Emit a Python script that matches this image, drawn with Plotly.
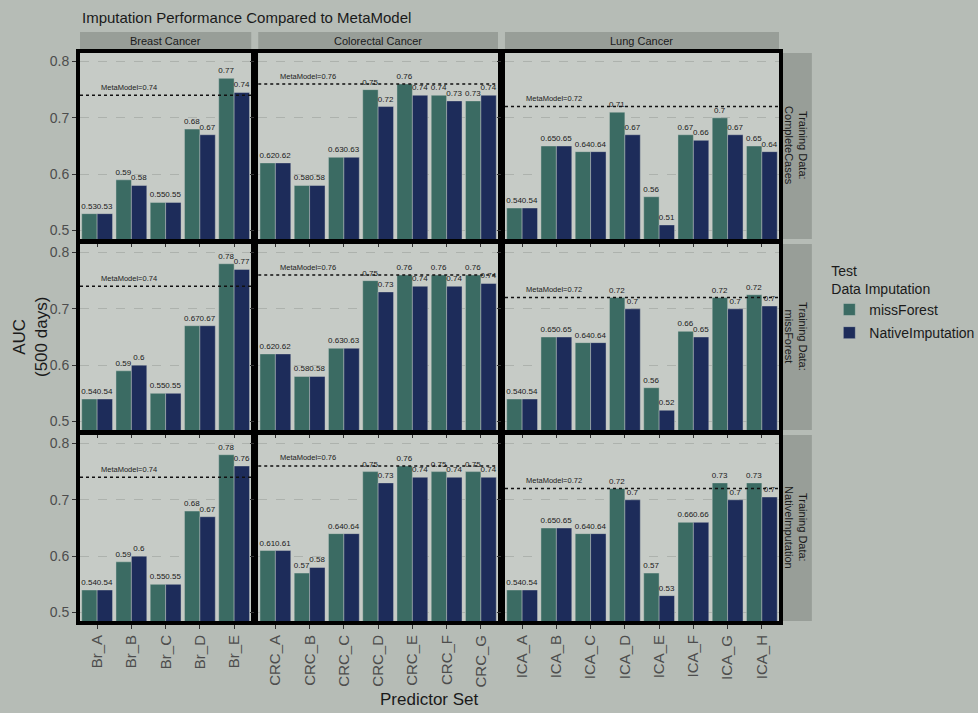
import plotly.graph_objects as go

# ---------------- data ----------------
breast_sets = ["Br_A", "Br_B", "Br_C", "Br_D", "Br_E"]
crc_sets = ["CRC_A", "CRC_B", "CRC_C", "CRC_D", "CRC_E", "CRC_F", "CRC_G"]
lung_sets = ["ICA_A", "ICA_B", "ICA_C", "ICA_D", "ICA_E", "ICA_F", "ICA_G", "ICA_H"]

cancer_names = ["Breast Cancer", "Colorectal Cancer", "Lung Cancer"]
training_names = ["Training Data:<br>CompleteCases", "Training Data:<br>missForest",
                  "Training Data:<br>NativeImputation"]
meta_auc = [0.74, 0.76, 0.72]

# Training: CompleteCases
mf_breast_cc = [0.53, 0.59, 0.55, 0.68, 0.77]
ni_breast_cc = [0.53, 0.58, 0.55, 0.67, 0.745]
mf_crc_cc = [0.62, 0.58, 0.63, 0.75, 0.76, 0.74, 0.73]
ni_crc_cc = [0.62, 0.58, 0.63, 0.72, 0.74, 0.73, 0.74]
mf_lung_cc = [0.54, 0.65, 0.64, 0.71, 0.56, 0.67, 0.70, 0.65]
ni_lung_cc = [0.54, 0.65, 0.64, 0.67, 0.51, 0.66, 0.67, 0.64]
# Training: missForest
mf_breast_mf = [0.54, 0.59, 0.55, 0.67, 0.78]
ni_breast_mf = [0.54, 0.60, 0.55, 0.67, 0.77]
mf_crc_mf = [0.62, 0.58, 0.63, 0.75, 0.76, 0.76, 0.76]
ni_crc_mf = [0.62, 0.58, 0.63, 0.73, 0.74, 0.74, 0.745]
mf_lung_mf = [0.54, 0.65, 0.64, 0.72, 0.56, 0.66, 0.72, 0.725]
ni_lung_mf = [0.54, 0.65, 0.64, 0.70, 0.52, 0.65, 0.70, 0.705]
# Training: NativeImputation
mf_breast_ni = [0.54, 0.59, 0.55, 0.68, 0.78]
ni_breast_ni = [0.54, 0.60, 0.55, 0.67, 0.76]
mf_crc_ni = [0.61, 0.57, 0.64, 0.75, 0.76, 0.75, 0.75]
ni_crc_ni = [0.61, 0.58, 0.64, 0.73, 0.74, 0.74, 0.74]
mf_lung_ni = [0.54, 0.65, 0.64, 0.72, 0.57, 0.66, 0.73, 0.73]
ni_lung_ni = [0.54, 0.65, 0.64, 0.70, 0.53, 0.66, 0.70, 0.705]

sets_by_col = [breast_sets, crc_sets, lung_sets]
mf_grid = [[mf_breast_cc, mf_crc_cc, mf_lung_cc],
           [mf_breast_mf, mf_crc_mf, mf_lung_mf],
           [mf_breast_ni, mf_crc_ni, mf_lung_ni]]
ni_grid = [[ni_breast_cc, ni_crc_cc, ni_lung_cc],
           [ni_breast_mf, ni_crc_mf, ni_lung_mf],
           [ni_breast_ni, ni_crc_ni, ni_lung_ni]]

# ---------------- style ----------------
FONT = "Liberation Sans, Arial, sans-serif"
TEAL = "#3b6b63"
NAVY = "#1d2c5a"
PAGE_BG = "#b6bcb6"
PANEL_BG = "#c6cbc6"
STRIP_BG = "#989e98"

col_dom = [[0.0, 0.245], [0.255, 0.598], [0.608, 1.0]]
row_dom = [[0.6725, 1.0], [0.3363, 0.6637], [0.0, 0.3275]]

fig = go.Figure()
layout = {}


def lab(v):
    return f"{round(v, 2):g}"


for r in range(3):
    for c in range(3):
        k = r * 3 + c + 1
        xa = "x" if k == 1 else f"x{k}"
        ya = "y" if k == 1 else f"y{k}"
        cats = sets_by_col[c]
        for name, vals, color in [("missForest", mf_grid[r][c], TEAL),
                                  ("NativeImputation", ni_grid[r][c], NAVY)]:
            fig.add_trace(go.Bar(
                x=cats, y=vals, name=name, legendgroup=name,
                showlegend=(k == 1),
                marker=dict(color=color, line=dict(color="rgba(205,210,205,0.7)", width=0.6)),
                text=[lab(v) for v in vals], textposition="outside",
                textfont=dict(size=8, color="#1a1a1a", family=FONT),
                constraintext="none", cliponaxis=False,
                xaxis=xa, yaxis=ya, hoverinfo="x+y"))
        axis_common = dict(showline=True, linecolor="black", linewidth=4, mirror=True,
                           ticks="outside", ticklen=4, tickcolor="#333333", tickwidth=1)
        layout[f"xaxis{k if k > 1 else ''}"] = dict(
            domain=col_dom[c], anchor=ya,
            type="category", range=[-0.5, len(cats) - 0.5],
            showgrid=False, tickangle=-90,
            showticklabels=(r == 2),
            tickfont=dict(size=15, color="#4d4d4d", family=FONT),
            **axis_common)
        layout[f"yaxis{k if k > 1 else ''}"] = dict(
            domain=row_dom[r], anchor=xa,
            range=[0.485, 0.815], tick0=0.5, dtick=0.1,
            showgrid=True, gridcolor="#adb2ad", griddash="dash", gridwidth=1,
            zeroline=False,
            showticklabels=(c == 0),
            tickfont=dict(size=14, color="#4d4d4d", family=FONT),
            **axis_common)
        # MetaModel dotted line
        fig.add_shape(type="line", xref=f"{xa} domain", yref=ya,
                      x0=0, x1=1, y0=meta_auc[c], y1=meta_auc[c],
                      line=dict(color="#111111", width=1.5, dash="dot"))
        fig.add_annotation(x=cats[1], y=meta_auc[c], xref=xa, yref=ya,
                           xanchor="center", yanchor="middle",
                           text=f"MetaModel={meta_auc[c]}", showarrow=False,
                           yshift=8, xshift=-2,
                           font=dict(size=7.5, color="#222222", family=FONT))

# strips
for c in range(3):
    fig.add_shape(type="rect", xref="paper", yref="paper",
                  x0=col_dom[c][0], x1=col_dom[c][1], y0=1.004, y1=1.037,
                  line=dict(width=0), fillcolor=STRIP_BG, layer="below")
    fig.add_annotation(x=(col_dom[c][0] + col_dom[c][1]) / 2, y=1.0205,
                       xref="paper", yref="paper", xanchor="center", yanchor="middle",
                       text=cancer_names[c], showarrow=False,
                       font=dict(size=11, color="#1a1a1a", family=FONT))
for r in range(3):
    fig.add_shape(type="rect", xref="paper", yref="paper",
                  x0=1.0014, x1=1.047, y0=row_dom[r][0], y1=row_dom[r][1],
                  line=dict(width=0), fillcolor=STRIP_BG, layer="below")
    fig.add_annotation(x=1.0242, y=(row_dom[r][0] + row_dom[r][1]) / 2,
                       xref="paper", yref="paper", xanchor="center", yanchor="middle",
                       text=training_names[r], showarrow=False,
                       textangle=90, font=dict(size=11, color="#1a1a1a", family=FONT))

# titles
fig.add_annotation(x=0, y=1.063, xref="paper", yref="paper", xanchor="left", yanchor="middle",
                   text="Imputation Performance Compared to MetaModel", showarrow=False,
                   font=dict(size=15, color="#1a1a1a", family=FONT))
fig.add_annotation(x=-0.0715, y=0.5, xref="paper", yref="paper",
                   xanchor="center", yanchor="middle",
                   text="AUC<br>(500 days)", showarrow=False, textangle=-90,
                   font=dict(size=17, color="#1a1a1a", family=FONT))
fig.add_annotation(x=0.5, y=-0.138, xref="paper", yref="paper",
                   xanchor="center", yanchor="middle",
                   text="Predictor Set", showarrow=False,
                   font=dict(size=17, color="#1a1a1a", family=FONT))

fig.update_layout(
    width=978, height=713,
    margin=dict(l=80, r=199, t=53, b=92, autoexpand=False),
    paper_bgcolor=PAGE_BG, plot_bgcolor=PANEL_BG,
    barmode="group", bargap=0.1, bargroupgap=0,
    legend=dict(x=1.072, y=0.64, xanchor="left", yanchor="top",
                title=dict(text="Test<br>Data Imputation",
                           font=dict(size=14, color="#1a1a1a", family=FONT)),
                font=dict(size=14, color="#1a1a1a", family=FONT),
                tracegroupgap=2, itemwidth=30,
                bgcolor="rgba(0,0,0,0)"),
    font=dict(family=FONT),
    **layout)

fig.write_html("out.html")
